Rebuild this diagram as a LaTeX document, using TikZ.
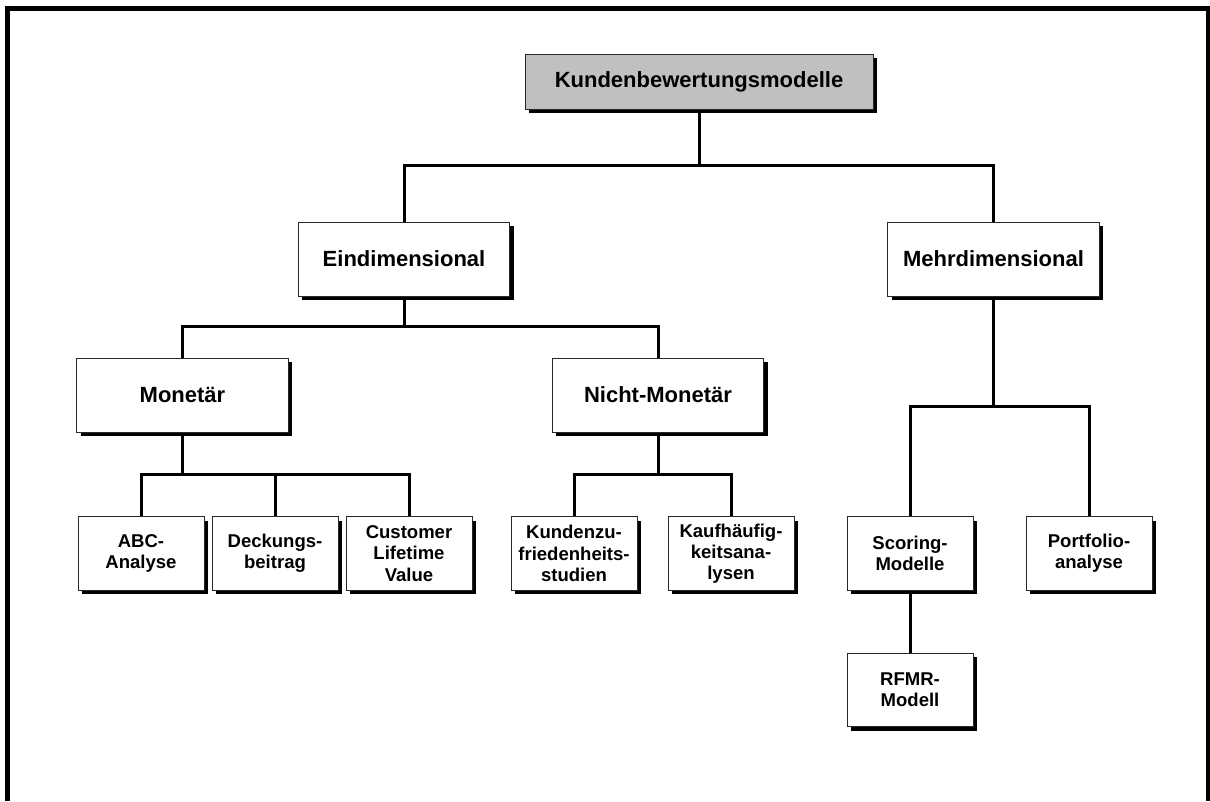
\documentclass[tikz,border=0pt]{standalone}
\usepackage{fontspec}
\setmainfont{Liberation Sans}
\usetikzlibrary{shadows}

\tikzset{
  box/.style={draw={rgb,255:red,40;green,40;blue,40}, line width=0.75pt, fill=white, align=center, inner sep=1pt,
    drop shadow={shadow xshift=3pt, shadow yshift=-3pt, fill=black, opacity=1}},
  bigbox/.style={box, minimum width=158.5pt, minimum height=55.5pt, font=\bfseries\fontsize{16.5}{19}\selectfont},
  smallbox/.style={box, minimum width=94.5pt, minimum height=55pt, font=\bfseries\fontsize{13.9}{15.9}\selectfont},
  conn/.style={line width=2.25pt},
}

\begin{document}
\begin{tikzpicture}[x=0.75pt,y=0.75pt,yscale=-1,xscale=1]
\useasboundingbox (0,0) rectangle (1210,801);

%Frame
\draw [line width=3.75pt] (7.5,801) -- (7.5,8.5) -- (1208.5,8.5) -- (1208.5,801) ;

%Root
\node [box, fill={rgb,255:red,192;green,192;blue,192}, minimum width=261pt, minimum height=41.25pt, font=\bfseries\fontsize{16.5}{19}\selectfont] (kbm) at (699,81.5) {Kundenbewertungsmodelle};

%Second level
\node [bigbox] (ein) at (404,259) {Eindimensional};
\node [bigbox] (mehr) at (993.5,259) {Mehrdimensional};

%Third level
\node [bigbox] (mon) at (182.5,395) {Monetär};
\node [bigbox] (nmon) at (658,395) {Nicht-Monetär};

%Leaves
\node [smallbox] (abc) at (141,553.5) {ABC-\\Analyse};
\node [smallbox] (deck) at (275,553.5) {Deckungs-\\beitrag};
\node [smallbox] (cust) at (409,553.5) {Customer\\Lifetime\\Value};
\node [smallbox] (kzuf) at (574,553.5) {Kundenzu-\\friedenheits-\\studien};
\node [smallbox] (kauf) at (731,553.5) {Kaufhäufig-\\keitsana-\\lysen};
\node [smallbox] (scor) at (910,553.5) {Scoring-\\Modelle};
\node [smallbox] (port) at (1089,553.5) {Portfolio-\\analyse};
\node [smallbox] (rfmr) at (910,690) {RFMR-\\Modell};

%Junctions
\coordinate (j0) at (699,165);
\coordinate (j1) at (404,326);
\coordinate (j2) at (993.5,406);
\coordinate (j3) at (182.5,474);
\coordinate (j4) at (658,474);

%Straight Lines
\draw [conn] (kbm.south) -- (j0);
\draw [conn] (ein.north) |- (j0) -| (mehr.north);
\draw [conn] (ein.south) -- (j1);
\draw [conn] (mon.north) |- (j1) -| (nmon.north);
\draw [conn] (mon.south) -- (j3);
\draw [conn] (abc.north) |- (j3) -| (cust.north);
\draw [conn] (deck.north) -- (deck.north |- j3);
\draw [conn] (nmon.south) -- (j4);
\draw [conn] (kzuf.north) |- (j4) -| (kauf.north);
\draw [conn] (mehr.south) -- (j2);
\draw [conn] (scor.north) |- (j2) -| (port.north);
\draw [conn] (scor.south) -- (rfmr.north);

\end{tikzpicture}
\end{document}
